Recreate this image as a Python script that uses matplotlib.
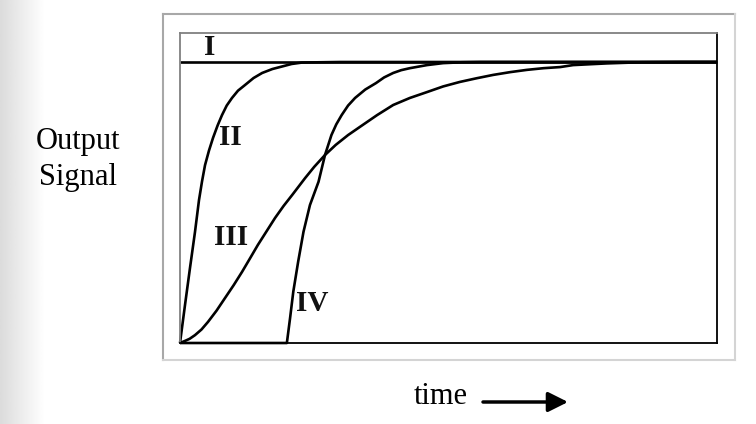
import matplotlib
matplotlib.use("Agg")
import matplotlib.pyplot as plt
from matplotlib.lines import Line2D
import numpy as np

# === Curves (time 0..10, signal 0..1) ===
t_I = [0.0, 10.0]
s_I = [1.0, 1.0]

t_II = [0.0, 0.093, 0.186, 0.279, 0.354, 0.41, 0.466, 0.54, 0.615, 0.70,
        0.782, 0.87, 0.968, 1.08, 1.21, 1.37, 1.53, 1.72, 1.90, 2.08,
        2.27, 2.6, 2.98, 10.0]
s_II = [0.0, 0.135, 0.267, 0.395, 0.509, 0.575, 0.633, 0.685, 0.730, 0.774,
        0.811, 0.845, 0.872, 0.898, 0.918, 0.943, 0.961, 0.975, 0.984, 0.993,
        0.998, 0.999, 1.0, 1.0]

t_III = [0.0, 0.10, 0.18, 0.279, 0.40, 0.521, 0.68, 0.838, 1.0, 1.155, 1.30,
         1.45, 1.61, 1.77, 1.93, 2.09, 2.33, 2.50, 2.70, 2.90, 3.13, 3.35,
         3.67, 3.97, 4.28, 4.60, 4.90, 5.21, 5.52, 5.83, 6.15, 6.46, 6.77,
         7.08, 7.32, 7.63, 7.95, 8.26, 8.57, 9.31, 10.0]
s_III = [0.0, 0.008, 0.015, 0.028, 0.048, 0.075, 0.115, 0.160, 0.206, 0.253,
         0.300, 0.349, 0.397, 0.445, 0.488, 0.527, 0.587, 0.627, 0.669, 0.705,
         0.740, 0.769, 0.811, 0.847, 0.872, 0.893, 0.913, 0.929, 0.942, 0.954,
         0.964, 0.972, 0.978, 0.982, 0.989, 0.992, 0.995, 0.997, 0.999, 1.0, 1.0]

t_IV = [0.0, 1.99, 2.05, 2.11, 2.20, 2.30, 2.42, 2.58, 2.70, 2.82, 2.91,
        3.01, 3.13, 3.26, 3.45, 3.65, 3.80, 3.97, 4.12, 4.28, 4.60, 4.90,
        5.25, 5.59, 10.0]
s_IV = [0.0, 0.0, 0.089, 0.183, 0.289, 0.396, 0.491, 0.574, 0.669, 0.740,
        0.778, 0.811, 0.845, 0.872, 0.902, 0.925, 0.945, 0.961, 0.971, 0.978,
        0.989, 0.996, 0.999, 1.0, 1.0]

labels = ["I", "II", "III", "IV"]
label_t = [0.56, 0.93, 0.96, 2.47]
label_s = [1.053, 0.733, 0.374, 0.142]

W, H = 756, 424
serif = ["Liberation Serif", "DejaVu Serif"]

fig = plt.figure(figsize=(W / 100, H / 100), dpi=100)
fig.patch.set_facecolor("white")

# faint grey shading at the left edge
shade = fig.add_axes([0, 0, 45 / W, 1], zorder=0)
grad = np.linspace(0.86, 1.0, 64).reshape(1, -1)
shade.imshow(grad, cmap="gray", vmin=0, vmax=1, aspect="auto",
             extent=[0, 1, 0, 1], interpolation="bilinear")
shade.axis("off")

# outer frame
def px(x, y):
    return x / W, 1 - y / H

x0, y0, x1, y1 = 163, 14, 735, 360
for (xa, ya), (xb, yb), c in [((x0, y0), (x1, y0), "#a8a8a8"),
                              ((x0, y0), (x0, y1), "#a8a8a8"),
                              ((x1, y0), (x1, y1), "#d4d4d4"),
                              ((x0, y1), (x1, y1), "#d4d4d4")]:
    (fa, ga), (fb, gb) = px(xa, ya), px(xb, yb)
    fig.add_artist(Line2D([fa, fb], [ga, gb], transform=fig.transFigure,
                          color=c, lw=1.5))

# plot area
ax = fig.add_axes([180 / W, (H - 343) / H, 537 / W, 310 / H], zorder=1)
ax.set_xlim(0, 10)
ax.set_ylim(0, 310 / 281)
ax.set_xticks([])
ax.set_yticks([])
ax.spines["top"].set_color("#808080")
ax.spines["left"].set_color("#808080")
ax.spines["right"].set_color("black")
ax.spines["bottom"].set_color("black")
for sp in ax.spines.values():
    sp.set_linewidth(1.3)

for t, s in [(t_I, s_I), (t_II, s_II), (t_III, s_III), (t_IV, s_IV)]:
    ax.plot(t, s, color="black", lw=1.9, solid_joinstyle="round",
            solid_capstyle="butt", clip_on=False)

for lab, t, s in zip(labels, label_t, label_s):
    ax.text(t, s, lab, family=serif, fontsize=21, fontweight="bold",
            ha="center", va="center", color="#111111")

fig.text(78 / W, 1 - 141 / H, "Output", family=serif, fontsize=22,
         ha="center", va="center")
fig.text(78 / W, 1 - 177 / H, "Signal", family=serif, fontsize=22,
         ha="center", va="center")
fig.text(441 / W, 1 - 397 / H, "time", family=serif, fontsize=22,
         ha="center", va="center")
ax.annotate("", xy=(568, H - 402), xytext=(483, H - 402),
            xycoords="figure pixels", textcoords="figure pixels",
            arrowprops=dict(arrowstyle="-|>", lw=2.5, color="black",
                            mutation_scale=30, shrinkA=0, shrinkB=0))

fig.savefig("out.png", dpi=100)
